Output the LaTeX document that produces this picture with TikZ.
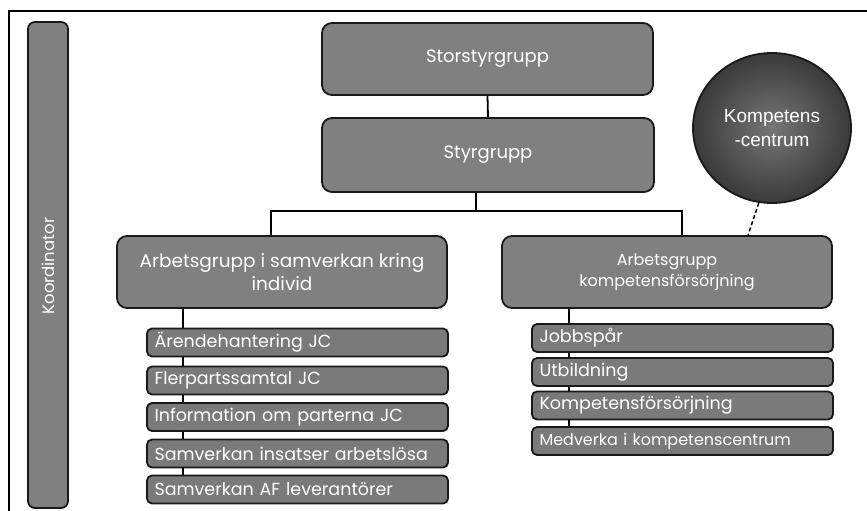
\documentclass[tikz,border=0pt]{standalone}
\usepackage{fontspec}
\setmainfont{Poppins}
\newfontfamily\arialfont{Liberation Sans}
\usetikzlibrary{shapes.geometric}
\definecolor{boxgray}{RGB}{128,128,128}
\definecolor{subgray}{RGB}{122,122,122}
\definecolor{edgec}{RGB}{25,25,25}
\tikzset{
  bigbox/.style={draw=edgec, line width=1.8pt, fill=boxgray, rounded corners=10pt,
    inner sep=0pt, text=white, align=center, font=\fontsize{18}{22}\selectfont},
  subbox/.style={draw=edgec, line width=1.8pt, fill=subgray, rounded corners=5pt,
    inner sep=0pt, text=white, minimum width=301pt, minimum height=28pt,
    text width=286pt, align=left, font=\fontsize{17.5}{20}\selectfont},
  link/.style={draw=black, line width=1.8pt},
}
\begin{document}
\begin{tikzpicture}[x=1pt,y=-1pt]
\useasboundingbox (0,0) rectangle (867,511);
\fill[white] (0,0) rectangle (867,511);
% frame
\draw[line width=1.5pt] (9,511) -- (9,11) -- (867,11);
% Koordinator bar
\node[bigbox, rounded corners=7pt, minimum width=40pt, minimum height=486pt] (koord) at (48,265) {};
\node[rotate=90, text=white, font=\fontsize{16.5}{20}\selectfont] (koordtxt) at (48,266) {Koordinator};
% top boxes
\node[bigbox, minimum width=331pt, minimum height=72pt] (ss) at (487.5,59) {Storstyrgrupp};
\node[bigbox, minimum width=332pt, minimum height=74pt] (st) at (488,155) {Styrgrupp};
\node[bigbox, minimum width=330pt, minimum height=72pt, font=\fontsize{18.5}{23}\selectfont] (A) at (282,272) {Arbetsgrupp i samverkan kring\\individ};
\node[bigbox, minimum width=330pt, minimum height=72pt, font=\fontsize{16}{21}\selectfont] (B) at (667,272) {Arbetsgrupp\\kompetensförsörjning};
% circle
\node[ellipse, draw=edgec, line width=1.8pt, minimum width=158pt, minimum height=150pt,
  inner color={rgb,255:red,118;green,118;blue,118}, outer color={rgb,255:red,58;green,58;blue,58},
  text=white, align=center, font=\arialfont\fontsize{19}{24}\selectfont] (K) at (772,128) {Kompetens\\-centrum};
% left sub boxes
\node[subbox] (L1) at (297.5,342.5) {Ärendehantering JC};
\node[subbox] (L2) at (297.5,380.5) {Flerpartssamtal JC};
\node[subbox] (L3) at (297.5,417) {Information om parterna JC};
\node[subbox] (L4) at (297.5,453.5) {Samverkan insatser arbetslösa};
\node[subbox] (L5) at (297.5,489.5) {Samverkan AF leverantörer};
% right sub boxes
\node[subbox] (R1) at (682.5,338) {Jobbspår};
\node[subbox] (R2) at (682.5,372) {Utbildning};
\node[subbox] (R3) at (682.5,405.5) {Kompetensförsörjning};
\node[subbox, font=\fontsize{16}{18}\selectfont] (R4) at (682.5,441) {Medverka i kompetenscentrum};
% connectors
\coordinate (j) at (476,211);
\coordinate (jl) at (271,211);
\coordinate (jr) at (682,211);
\coordinate (lx) at (183,0);
\coordinate (rx) at (569,0);
\draw[link] (ss.south) -- (st.north);
\draw[link] (j |- st.south) -- (j);
\draw[link] (jl |- A.north) -- (jl) -- (jr) -- (jr |- B.north);
\draw[link] (lx |- A.south) -- (lx |- L1.north);
\draw[link] (lx |- L1.south) -- (lx |- L2.north);
\draw[link] (lx |- L2.south) -- (lx |- L3.north);
\draw[link] (lx |- L3.south) -- (lx |- L4.north);
\draw[link] (lx |- L4.south) -- (lx |- L5.north);
\draw[link] (rx |- B.south) -- (rx |- R1.north);
\draw[link] (rx |- R1.south) -- (rx |- R2.north);
\draw[link] (rx |- R2.south) -- (rx |- R3.north);
\draw[link] (rx |- R3.south) -- (rx |- R4.north);
\coordinate (dx) at (748,0);
\draw[link, line width=1.5pt, dash pattern=on 4pt off 2.5pt] (K.260) -- (dx |- B.north);
\end{tikzpicture}
\end{document}
